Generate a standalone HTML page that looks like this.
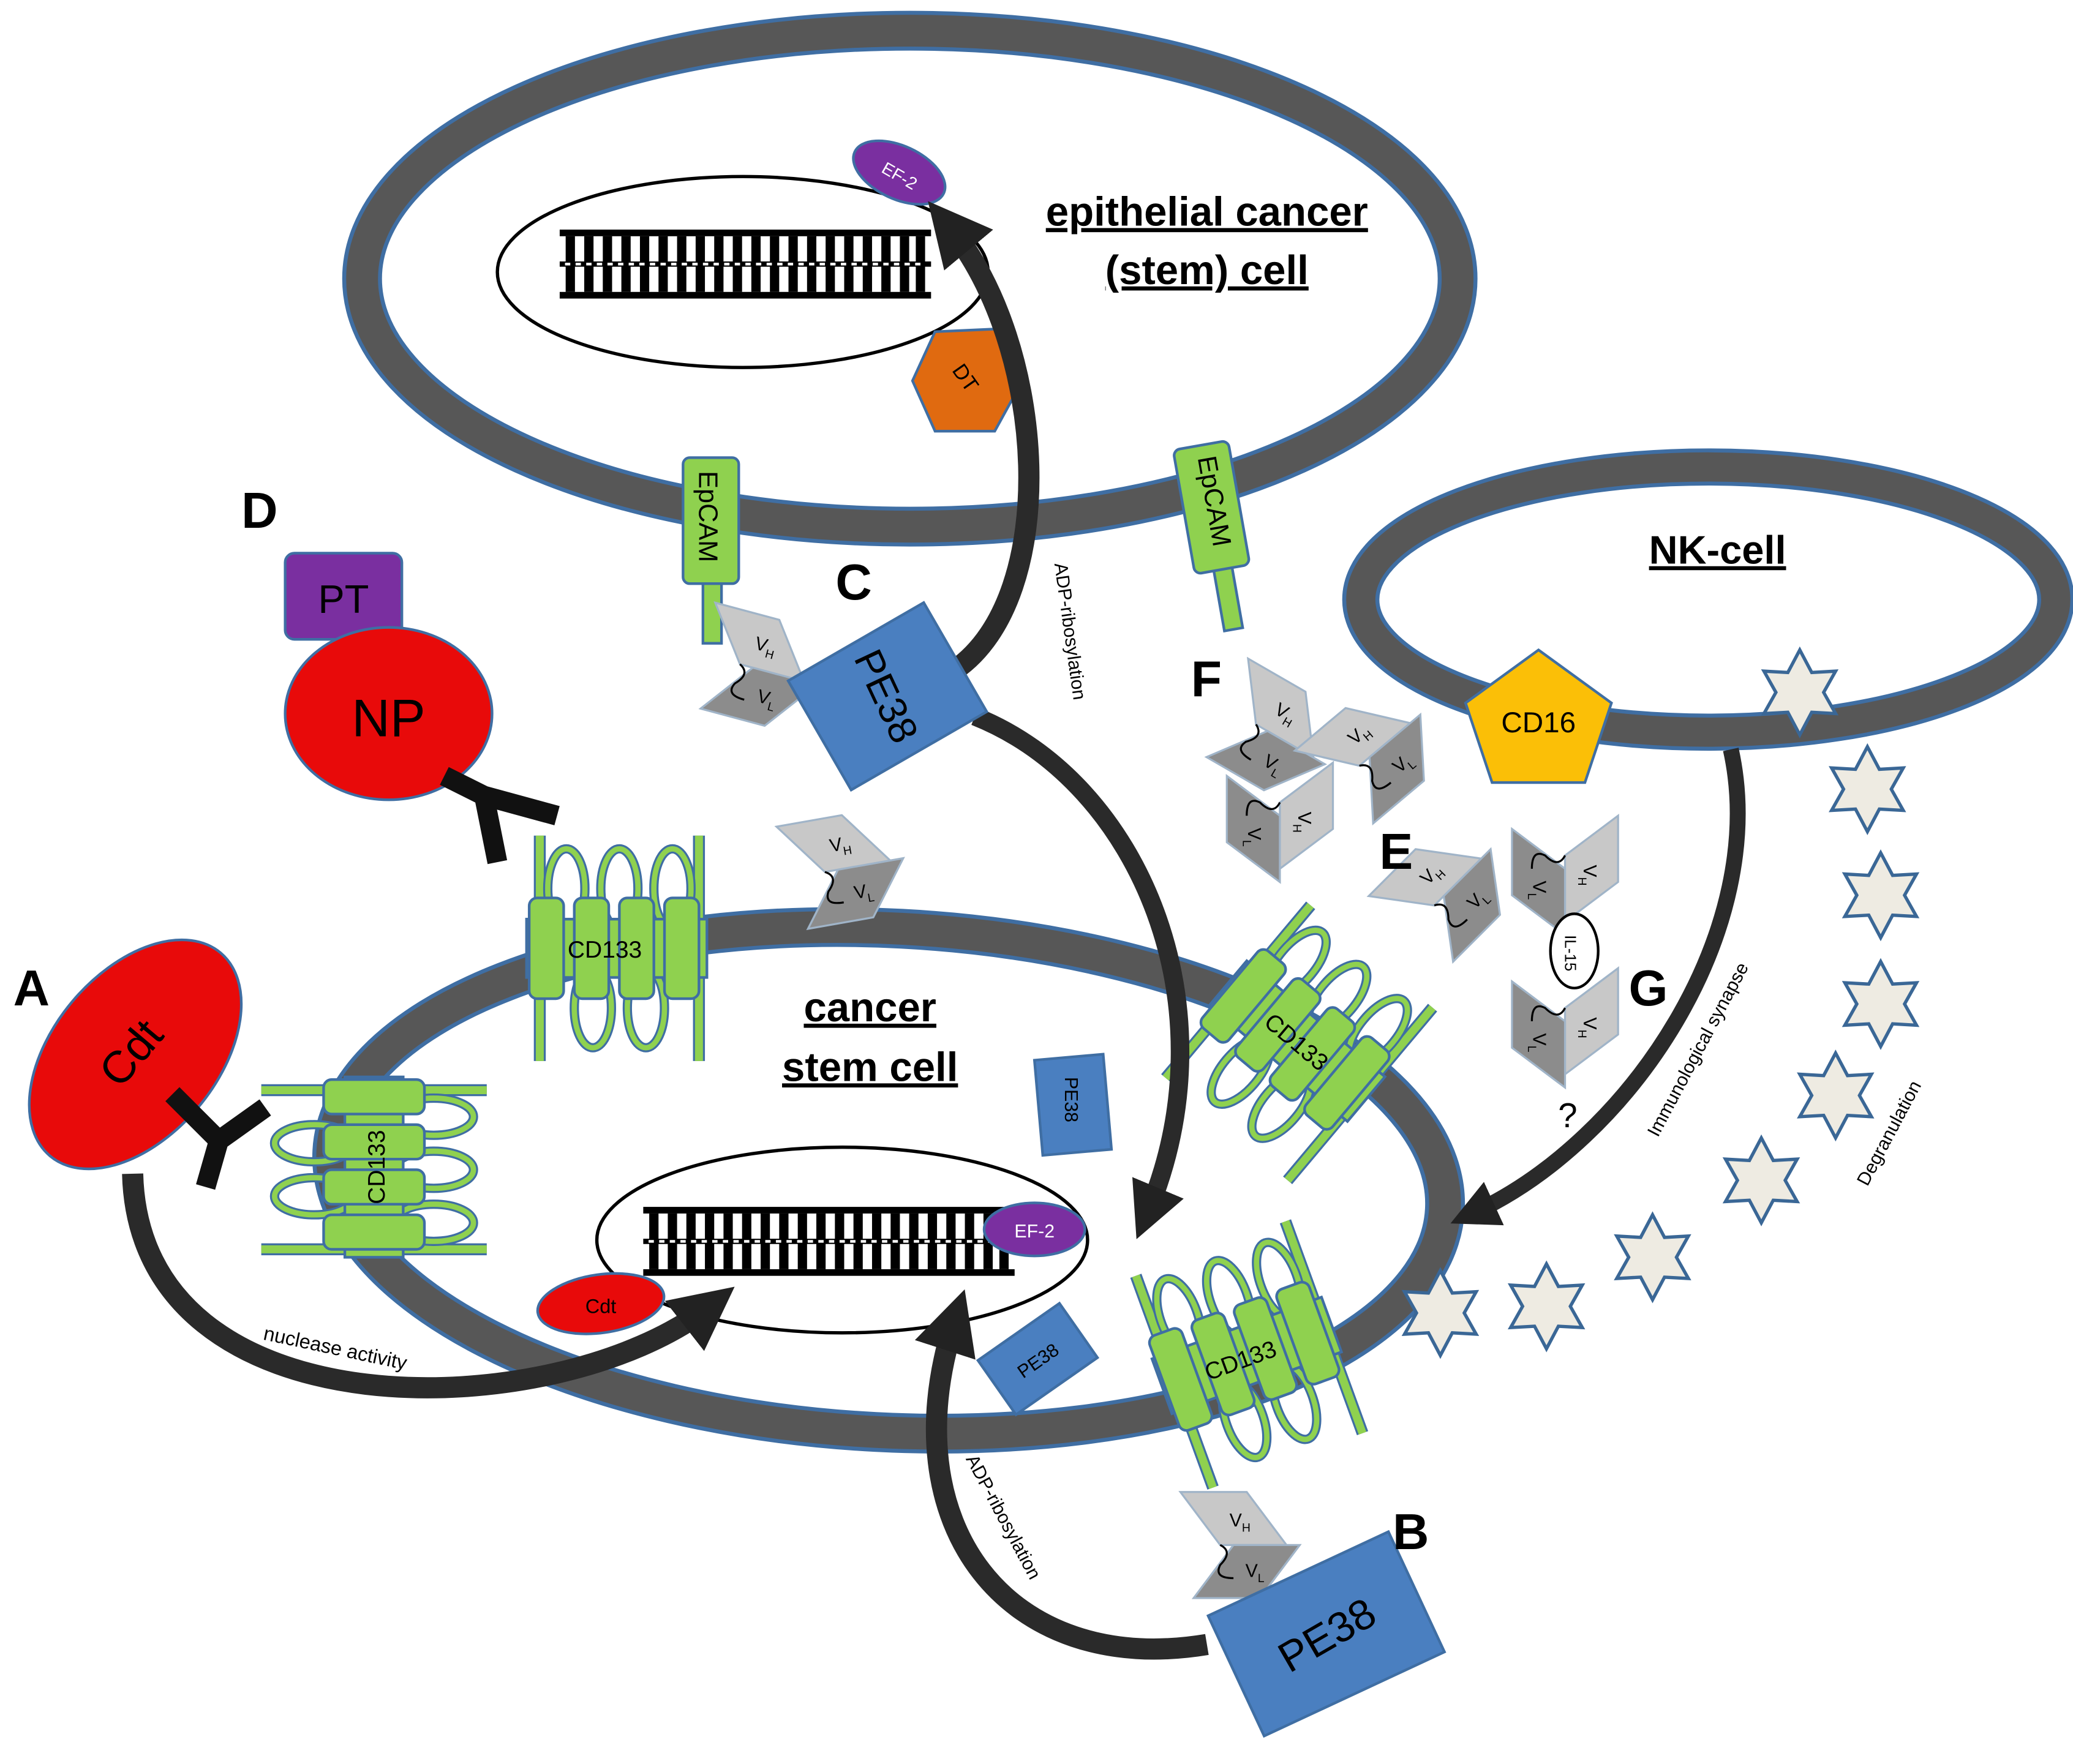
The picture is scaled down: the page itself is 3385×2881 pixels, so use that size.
<!DOCTYPE html>
<html><head><style>body{margin:0;background:#fff}svg{display:block}text{font-family:"Liberation Sans",sans-serif}</style></head>
<body>
<svg width="3385" height="2881" viewBox="0 0 1563 1330" xmlns="http://www.w3.org/2000/svg">
<defs>
<g id="cd133">
 <line x1="-58" y1="-85" x2="-58" y2="85" stroke="#3f6ea3" stroke-width="9"/>
 <line x1="-58" y1="-85" x2="-58" y2="85" stroke="#8fd14f" stroke-width="6"/>
 <line x1="62" y1="-85" x2="62" y2="85" stroke="#3f6ea3" stroke-width="9"/>
 <line x1="62" y1="-85" x2="62" y2="85" stroke="#8fd14f" stroke-width="6"/>
 <g fill="none" stroke="#3f6ea3" stroke-width="7">
  <ellipse cx="-38" cy="-45" rx="14" ry="30"/><ellipse cx="2" cy="-45" rx="14" ry="30"/><ellipse cx="42" cy="-45" rx="14" ry="30"/>
  <ellipse cx="-18" cy="45" rx="14" ry="30"/><ellipse cx="22" cy="45" rx="14" ry="30"/>
 </g>
 <g fill="none" stroke="#8fd14f" stroke-width="4">
  <ellipse cx="-38" cy="-45" rx="14" ry="30"/><ellipse cx="2" cy="-45" rx="14" ry="30"/><ellipse cx="42" cy="-45" rx="14" ry="30"/>
  <ellipse cx="-18" cy="45" rx="14" ry="30"/><ellipse cx="22" cy="45" rx="14" ry="30"/>
 </g>
 <g fill="#8fd14f" stroke="#3f6ea3" stroke-width="2">
  <rect x="-68" y="-22" width="136" height="44"/>
  <rect x="-66" y="-38" width="26" height="76" rx="6"/>
  <rect x="-32" y="-38" width="26" height="76" rx="6"/>
  <rect x="2" y="-38" width="26" height="76" rx="6"/>
  <rect x="36" y="-38" width="26" height="76" rx="6"/>
 </g>
</g>
<g id="scfv">
 <polygon points="-45,-30 5,-30 35,10 -15,10" fill="#c8c8c8" stroke="#a0b4c8" stroke-width="1.5"/>
 <polygon points="-5,10 45,10 15,50 -35,50" fill="#8c8c8c" stroke="#a0b4c8" stroke-width="1.5"/>
 <path d="M-15,10 q10,5 0,15 q-5,10 10,10" fill="none" stroke="#000" stroke-width="1.5"/>
 <text x="-8" y="-4" font-size="14">V<tspan font-size="9" dy="4">H</tspan></text>
 <text x="4" y="34" font-size="14">V<tspan font-size="9" dy="4">L</tspan></text>
</g>
<polygon id="star" points="0,-32 9,-15 27,-16 18,0 27,16 9,15 0,32 -9,15 -27,16 -18,0 -27,-16 -9,-15" fill="#eeebe2" stroke="#3a6796" stroke-width="2.5"/>
<g id="dna">
 <rect x="0" y="0" width="280" height="5" fill="#000"/>
 <rect x="0" y="47" width="280" height="5" fill="#000"/>
 <path d="M0,26 H280" stroke="#000" stroke-width="4"/>
 <g stroke="#000" stroke-width="7">
  <path d="M8,5V47M22,5V47M36,5V47M50,5V47M64,5V47M78,5V47M92,5V47M106,5V47M120,5V47M134,5V47M148,5V47M162,5V47M176,5V47M190,5V47M204,5V47M218,5V47M232,5V47M246,5V47M260,5V47M272,5V47"/>
 </g>
 <path d="M4,26H276" stroke="#fff" stroke-width="2" stroke-dasharray="4 4"/>
</g>
<marker id="ah" viewBox="0 0 10 10" refX="5" refY="5" markerWidth="3" markerHeight="3" orient="auto"><path d="M0,0L10,5L0,10z" fill="#222"/></marker>
</defs>

<ellipse cx="686" cy="210" rx="413" ry="187" fill="none" stroke="#3f6ea3" stroke-width="30"/>
<ellipse cx="686" cy="210" rx="413" ry="187" fill="none" stroke="#575757" stroke-width="24"/>
<ellipse cx="560" cy="205" rx="185" ry="72" fill="#fff" stroke="#000" stroke-width="2.5"/>
<use href="#dna" x="422" y="173"/>
<ellipse cx="678" cy="130" rx="37" ry="20" transform="rotate(25 678 130)" fill="#7a2fa0" stroke="#3f6ea3" stroke-width="2"/>
<text x="665" y="135" font-size="13" fill="#fff" transform="rotate(30 675 130)">EF-2</text>
<polygon points="705,250 750,248 772,285 750,325 705,325 688,287" fill="#e06a10" stroke="#3f6ea3" stroke-width="2"/>
<text x="718" y="292" font-size="16" transform="rotate(55 730 285)">DT</text>
<text x="910" y="170" font-size="31" font-weight="bold" text-anchor="middle" text-decoration="underline">epithelial cancer</text>
<text x="910" y="214" font-size="31" font-weight="bold" text-anchor="middle" text-decoration="underline">(stem) cell</text>

<g fill="#8fd14f" stroke="#3f6ea3" stroke-width="2">
 <rect x="530" y="420" width="14" height="65"/>
 <rect x="515" y="345" width="42" height="95" rx="5"/>
 <rect x="917" y="410" width="14" height="65" transform="rotate(-10 924 440)"/>
 <rect x="892" y="335" width="42" height="95" rx="5" transform="rotate(-10 913 380)"/>
</g>
<text x="527" y="355" font-size="20" transform="rotate(90 527 355)">EpCAM</text>
<text x="903" y="345" font-size="20" transform="rotate(80 903 345)">EpCAM</text>

<ellipse cx="1288" cy="452" rx="262" ry="100" fill="none" stroke="#3f6ea3" stroke-width="28"/>
<ellipse cx="1288" cy="452" rx="262" ry="100" fill="none" stroke="#575757" stroke-width="22"/>
<text x="1295" y="425" font-size="30" font-weight="bold" text-anchor="middle" text-decoration="underline">NK-cell</text>
<polygon points="1160,490 1215,530 1195,590 1125,590 1105,530" fill="#fbbf07" stroke="#3f6ea3" stroke-width="2"/>
<text x="1160" y="552" font-size="22" text-anchor="middle">CD16</text>
<use href="#star" x="1357" y="522"/>

<ellipse cx="670" cy="890" rx="420" ry="190" transform="rotate(3 670 890)" fill="none" stroke="#3f6ea3" stroke-width="30"/>
<ellipse cx="670" cy="890" rx="420" ry="190" transform="rotate(3 670 890)" fill="none" stroke="#575757" stroke-width="24"/>
<text x="656" y="770" font-size="31" font-weight="bold" text-anchor="middle" text-decoration="underline">cancer</text>
<text x="656" y="815" font-size="31" font-weight="bold" text-anchor="middle" text-decoration="underline">stem cell</text>
<ellipse cx="635" cy="935" rx="185" ry="70" fill="#fff" stroke="#000" stroke-width="2.5"/>
<use href="#dna" x="485" y="910"/>
<ellipse cx="780" cy="927" rx="38" ry="20" fill="#7a2fa0" stroke="#3f6ea3" stroke-width="2"/>
<text x="780" y="933" font-size="14" fill="#fff" text-anchor="middle">EF-2</text>
<ellipse cx="453" cy="983" rx="48" ry="22" transform="rotate(-8 453 983)" fill="#e80a0a" stroke="#3f6ea3" stroke-width="2"/>
<text x="453" y="990" font-size="15" text-anchor="middle">Cdt</text>
<rect x="783" y="797" width="52" height="72" transform="rotate(-5 809 833)" fill="#4a7fc0" stroke="#3f6ea3" stroke-width="2"/>
<text x="803" y="812" font-size="14" transform="rotate(90 803 812)">PE38</text>
<rect x="745" y="1000" width="75" height="50" transform="rotate(-35 782 1025)" fill="#4a7fc0" stroke="#3f6ea3" stroke-width="2"/>
<text x="782" y="1031" font-size="14" text-anchor="middle" transform="rotate(-35 782 1025)">PE38</text>

<use href="#cd133" transform="translate(465,715)"/>
<text x="456" y="722" font-size="18" text-anchor="middle">CD133</text>
<use href="#cd133" transform="translate(282,880) rotate(90)"/>
<text x="290" y="880" font-size="18" text-anchor="middle" transform="rotate(-90 290 880)">CD133</text>
<use href="#cd133" transform="translate(978,785) rotate(40)"/>
<text x="978" y="792" font-size="18" text-anchor="middle" transform="rotate(40 978 785)">CD133</text>
<use href="#cd133" transform="translate(940,1022) rotate(-20)"/>
<text x="935" y="1032" font-size="18" text-anchor="middle" transform="rotate(-20 935 1025)">CD133</text>

<path d="M720,505 C800,450 790,260 715,170" fill="none" stroke="#2a2a2a" stroke-width="16" marker-end="url(#ah)"/>
<path d="M735,540 C860,590 930,760 865,915" fill="none" stroke="#2a2a2a" stroke-width="14" marker-end="url(#ah)"/>
<path d="M910,1240 C760,1265 670,1150 720,995" fill="none" stroke="#2a2a2a" stroke-width="16" marker-end="url(#ah)"/>
<path d="M100,885 C105,1085 420,1075 535,985" fill="none" stroke="#2a2a2a" stroke-width="16" marker-end="url(#ah)"/>
<path d="M1305,565 C1335,700 1230,860 1110,915" fill="none" stroke="#2a2a2a" stroke-width="12" marker-end="url(#ah)"/>
<text x="795" y="425" font-size="14" transform="rotate(82 795 425)">ADP-ribosylation</text>
<text x="728" y="1100" font-size="14" transform="rotate(62 728 1100)">ADP-ribosylation</text>
<text x="198" y="1010" font-size="15" transform="rotate(12 198 1010)">nuclease activity</text>
<text x="1250" y="858" font-size="14" transform="rotate(-62 1250 858)">Immunological synapse</text>
<text x="1408" y="895" font-size="14" transform="rotate(-62 1408 895)">Degranulation</text>

<use href="#star" x="1408" y="595"/><use href="#star" x="1418" y="675"/><use href="#star" x="1418" y="757"/>
<use href="#star" x="1384" y="826"/><use href="#star" x="1328" y="890"/><use href="#star" x="1246" y="948"/>
<use href="#star" x="1166" y="985"/><use href="#star" x="1086" y="990"/>

<use href="#scfv" transform="translate(575,495) rotate(15)"/>
<use href="#scfv" transform="translate(635,645) rotate(-10)"/>
<rect x="610" y="478" width="118" height="95" transform="rotate(-30 668 525)" fill="#4a7fc0" stroke="#3f6ea3" stroke-width="2"/>
<text x="668" y="535" font-size="30" text-anchor="middle" transform="rotate(65 668 525)">PE38</text>
<use href="#scfv" transform="translate(965,545) rotate(30)"/>
<use href="#scfv" transform="translate(1030,560) rotate(-40)"/>
<use href="#scfv" transform="translate(975,620) rotate(90)"/>
<use href="#scfv" transform="translate(1085,665) rotate(-45)"/>
<use href="#scfv" transform="translate(1190,660) rotate(90)"/>
<use href="#scfv" transform="translate(1190,775) rotate(90)"/>
<ellipse cx="1187" cy="717" rx="18" ry="28" fill="#fff" stroke="#000" stroke-width="2"/>
<text x="1180" y="705" font-size="12" transform="rotate(90 1180 705)">IL-15</text>
<text x="1182" y="850" font-size="26" text-anchor="middle">?</text>
<use href="#scfv" transform="translate(935,1155) rotate(0)"/>
<rect x="925" y="1182" width="150" height="100" transform="rotate(-25 1000 1232)" fill="#4a7fc0" stroke="#3f6ea3" stroke-width="2"/>
<text x="1000" y="1244" font-size="32" text-anchor="middle" transform="rotate(-30 1000 1232)">PE38</text>

<ellipse cx="102" cy="795" rx="62" ry="100" transform="rotate(40 102 795)" fill="#e80a0a" stroke="#3f6ea3" stroke-width="2"/>
<text x="100" y="805" font-size="34" text-anchor="middle" transform="rotate(-50 100 795)">Cdt</text>
<path d="M130,825 L165,860 L200,835 M165,860 L155,895" fill="none" stroke="#111" stroke-width="15"/>
<rect x="215" y="417" width="88" height="65" rx="7" fill="#7a2fa0" stroke="#3f6ea3" stroke-width="2"/>
<text x="259" y="462" font-size="30" text-anchor="middle">PT</text>
<ellipse cx="293" cy="538" rx="78" ry="65" fill="#e80a0a" stroke="#3f6ea3" stroke-width="2"/>
<text x="293" y="555" font-size="40" text-anchor="middle">NP</text>
<path d="M335,585 L365,600 L375,650 M365,600 L420,615" fill="none" stroke="#111" stroke-width="15"/>

<g font-size="38" font-weight="bold">
<text x="10" y="758">A</text><text x="1050" y="1168">B</text><text x="630" y="452">C</text>
<text x="182" y="398">D</text><text x="1040" y="655">E</text><text x="898" y="525">F</text><text x="1228" y="758">G</text>
</g>
</svg>
</body></html>
